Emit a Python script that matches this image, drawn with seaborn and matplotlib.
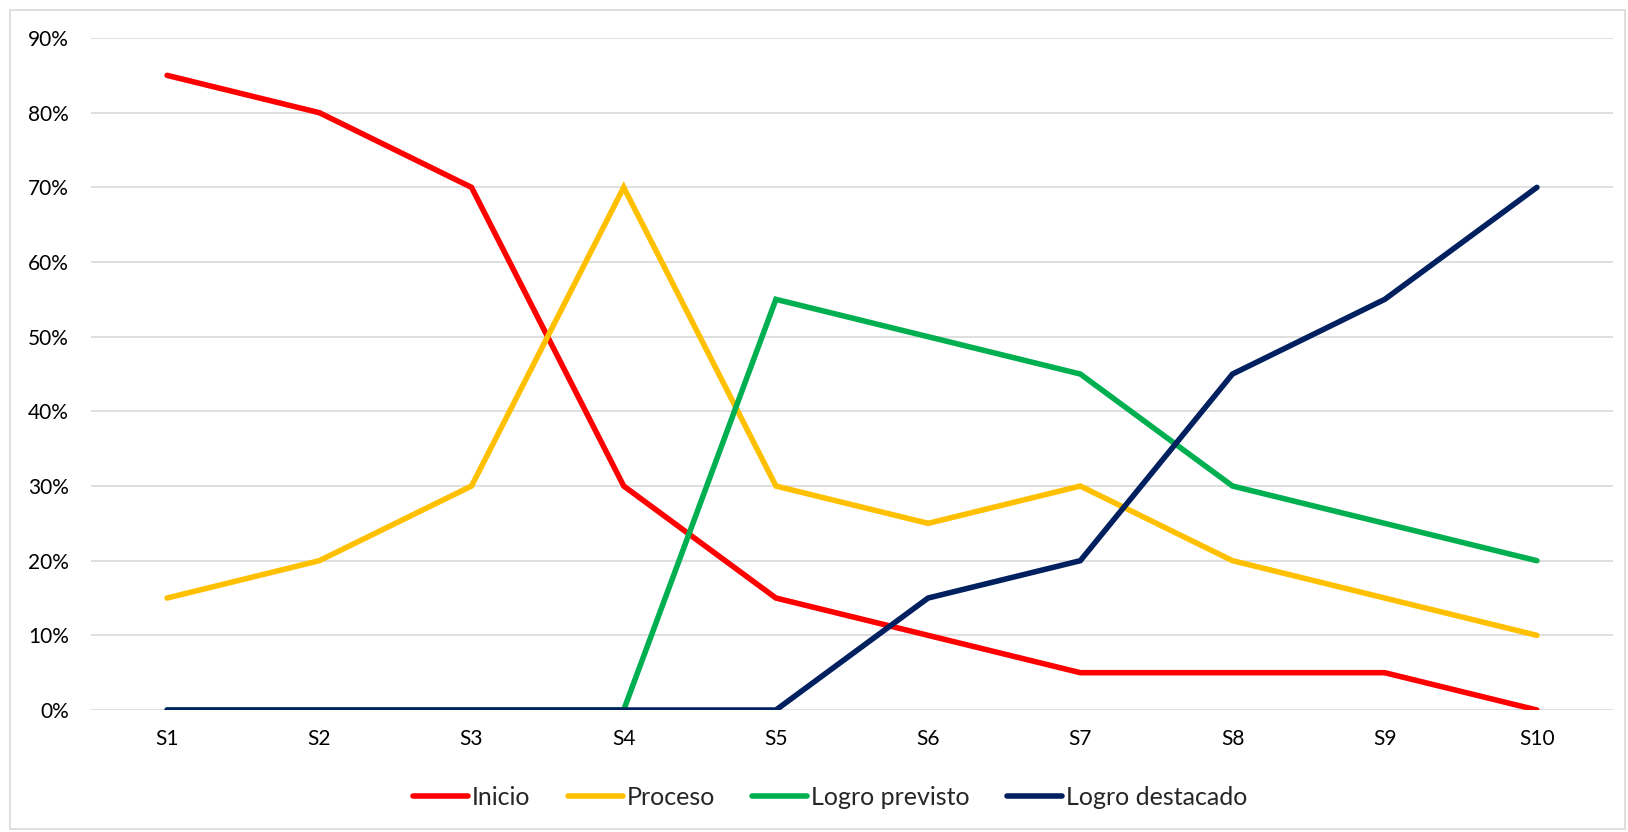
import pandas as pd
import seaborn as sns
from matplotlib import pyplot as plt
from matplotlib.patches import Rectangle
from matplotlib.ticker import PercentFormatter

# data
semanas = ["S1", "S2", "S3", "S4", "S5", "S6", "S7", "S8", "S9", "S10"]
inicio = [0.85, 0.80, 0.70, 0.30, 0.15, 0.10, 0.05, 0.05, 0.05, 0.00]
proceso = [0.15, 0.20, 0.30, 0.70, 0.30, 0.25, 0.30, 0.20, 0.15, 0.10]
logro_previsto = [0.00, 0.00, 0.00, 0.00, 0.55, 0.50, 0.45, 0.30, 0.25, 0.20]
logro_destacado = [0.00, 0.00, 0.00, 0.00, 0.00, 0.15, 0.20, 0.45, 0.55, 0.70]

series = {
    "Inicio": inicio,
    "Proceso": proceso,
    "Logro previsto": logro_previsto,
    "Logro destacado": logro_destacado,
}
colors = ["#FF0000", "#FFC000", "#00B050", "#002060"]

rows = []
for name, vals in series.items():
    for s, v in zip(semanas, vals):
        rows.append({"semana": s, "valor": v, "serie": name})
df = pd.DataFrame(rows)

sns.set_theme(style="white")
plt.rcParams["font.family"] = ["Lato", "DejaVu Sans"]

fig = plt.figure(figsize=(16.28, 8.32), dpi=100)
ax = fig.add_axes([0.0559, 0.1466, 0.9349, 0.8077])

sns.lineplot(data=df, x="semana", y="valor", hue="serie", palette=colors,
             linewidth=4, sort=False, ax=ax, legend=True)
for line in ax.lines:
    line.set_solid_capstyle("round")
    line.set_solid_joinstyle("miter")

ax.set_xlim(-0.5, len(semanas) - 0.5)
ax.set_ylim(0, 0.9)
ax.set_yticks([i / 10 for i in range(10)])
ax.yaxis.set_major_formatter(PercentFormatter(1.0, decimals=0))
ax.grid(axis="y", color="#D9D9D9", linewidth=1.2)
ax.set_axisbelow(True)
for sp in ax.spines.values():
    sp.set_visible(False)
ax.tick_params(axis="y", length=0, pad=16, labelsize=15, labelcolor="#000000")
ax.tick_params(axis="x", length=0, pad=14, labelsize=15, labelcolor="#000000")
ax.set_xlabel("")
ax.set_ylabel("")

handles, labels = ax.get_legend_handles_labels()
ax.get_legend().remove()
leg = fig.legend(handles, labels, loc="center", bbox_to_anchor=(0.51, 0.042),
                 ncol=4, frameon=False, fontsize=18, handlelength=2.2,
                 handletextpad=0.15, columnspacing=1.5)
for h in leg.get_lines():
    h.set_linewidth(4)
    h.set_solid_capstyle("round")

# outer chart border
fig.patches.append(Rectangle((10 / 1628, 3 / 832), 1615 / 1628, 819 / 832,
                             transform=fig.transFigure, fill=False,
                             edgecolor="#D9D9D9", linewidth=1.2))

fig.savefig("out.png", dpi=100)
